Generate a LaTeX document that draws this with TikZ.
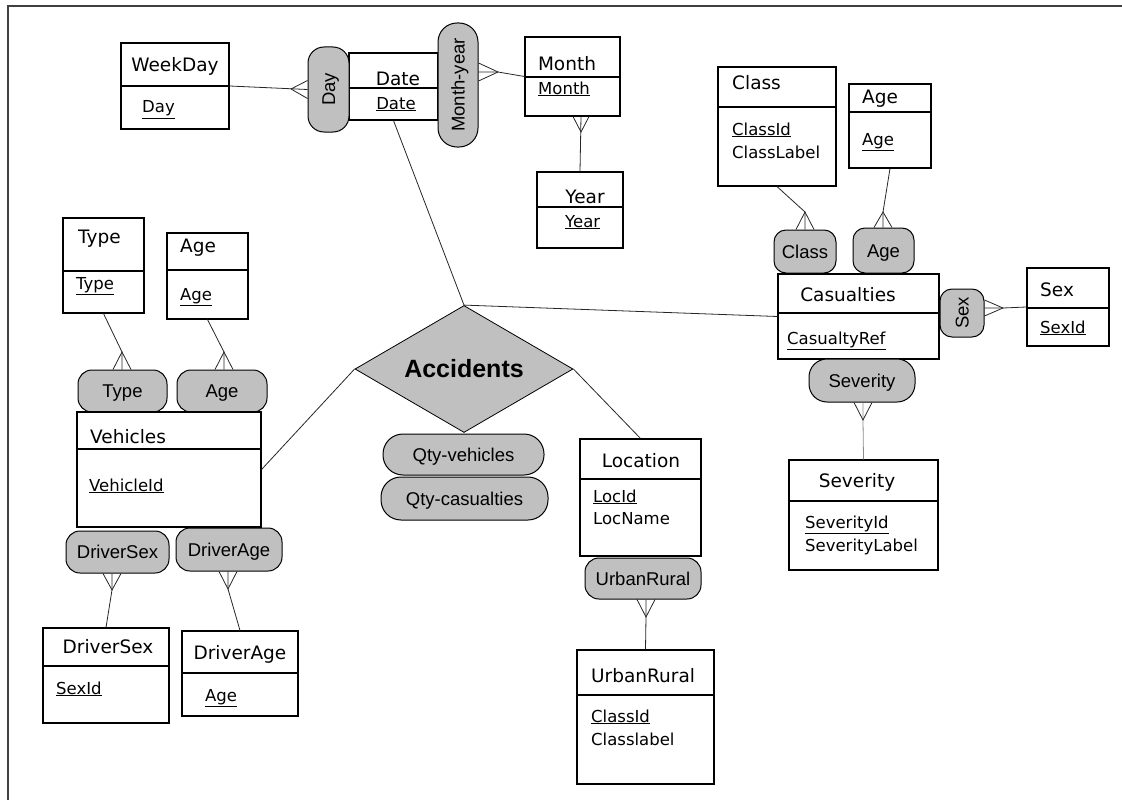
\documentclass[tikz,border=0pt]{standalone}
\usepackage{fontspec}
\setmainfont{DejaVu Sans}
\newfontfamily\pillfont{Liberation Sans}
\usetikzlibrary{calc,fit,shapes.geometric}
\definecolor{pillgray}{RGB}{192,192,192}
\tikzset{
	entity/.style={draw, line width=1.1pt, inner sep=0pt},
	divline/.style={line width=1.1pt},
	pill/.style={draw, line width=1pt, fill=pillgray, inner sep=0pt, rounded corners=14pt},
	pilltext/.style={inner sep=0pt, font=\pillfont\fontsize{18.5}{20}\selectfont, text height=13pt, text depth=0pt},
	title/.style={inner sep=0pt, font=\fontsize{18.5}{20}\selectfont, text height=13.5pt, text depth=0pt},
	attr/.style={inner sep=0pt, anchor=west, font=\fontsize{16.5}{19}\selectfont, text height=12pt, text depth=0pt},
	link/.style={line width=0.8pt, black!85},
}
% crow's foot: vertex, foot on the pill, half spread
\newcommand{\crow}[4][]{\draw[link,#1] ($(#3)+(#4)$) -- (#2) -- ($(#3)-(#4)$);}

\begin{document}
\begin{tikzpicture}[x=1pt, y=-1pt]
			%%%%% START %%%%%
			\useasboundingbox (0,0) rectangle (1122,800);
			\draw[line width=1.5pt, black!75] (8,800) -- (8,6) -- (1122,6);
			
			% date dimension
			\node[entity, fit={(121,43) (229,129)}] (wd) {};
			\draw[divline] (wd.west |- 0,86) -- (wd.east |- 0,86);
			\node[title] (wd-t) at (175,65) {WeekDay};
			\node[attr] (wd-a) at (142,107) {\underline{Day}};
			
			\node[entity, fit={(349,53) (438,120)}] (dt) {};
			\draw[divline] (dt.west |- 0,88) -- (dt.east |- 0,88);
			\node[title] (dt-t) at (398,79) {Date};
			\node[attr, anchor=center] (dt-a) at (396,103) {\underline{Date}};
			
			\node[pill, rounded corners=16pt, fit={(308,47) (349,132)}] (day) {};
			\node[pilltext, rotate=90] (day-t) at (day.center) {Day};
			\node[pill, rounded corners=19pt, fit={(438,23) (478,147)}] (my) {};
			\node[pilltext, rotate=90] (my-t) at (my.center) {Month-year};
			
			\node[entity, fit={(525,37) (620,116)}] (mo) {};
			\draw[divline] (mo.west |- 0,77) -- (mo.east |- 0,77);
			\node[title] (mo-t) at (567,64) {Month};
			\node[attr] (mo-a) at (538,88) {\underline{Month}};
			
			\node[entity, fit={(537,172) (623,248)}] (yr) {};
			\node[title] (yr-t) at (585,197) {Year};
			\draw[divline] (yr.west |- 0,207) -- (yr.east |- 0,207);
			\node[attr] (yr-a) at (565,221) {\underline{Year}};
			
			% casualties
			\node[entity, fit={(718,67) (836,186)}] (cl) {};
			\draw[divline] (cl.west |- 0,107) -- (cl.east |- 0,107);
			\node[title, anchor=west] (cl-t) at (732,83) {Class};
			\node[attr] (cl-a) at (732,129) {\underline{ClassId}};
			\node[attr] (cl-b) at (732,152) {ClassLabel};
			
			\node[entity, fit={(849,84) (931,168)}] (cag) {};
			\draw[divline] (cag.west |- 0,112) -- (cag.east |- 0,112);
			\node[title, anchor=west] (cag-t) at (862,97) {Age};
			\node[attr] (cag-a) at (862,139) {\underline{Age}};
			
			\node[pill, rounded corners=12pt, fit={(774,230) (836,273)}] (clp) {};
			\node[pilltext] (clp-t) at (clp.center) {Class};
			\node[pill, rounded corners=12pt, fit={(853,228) (914,273)}] (cap) {};
			\node[pilltext] (cap-t) at (cap.center) {Age};
			
			\node[entity, fit={(778,274) (939,359)}] (cas) {};
			\draw[divline] (cas.west |- 0,313) -- (cas.east |- 0,313);
			\node[title] (cas-t) at (848,295) {Casualties};
			\node[attr] (cas-a) at (787,338) {\underline{CasualtyRef}};
			
			\node[pill, rounded corners=12pt, fit={(940,289) (984,337)}] (sxp) {};
			\node[pilltext, rotate=90] (sxp-t) at (sxp.center) {Sex};
			\node[entity, fit={(1027,268) (1109,346)}] (sx) {};
			\draw[divline] (sx.west |- 0,308) -- (sx.east |- 0,308);
			\node[title, anchor=west] (sx-t) at (1040,290) {Sex};
			\node[attr] (sx-a) at (1040,327) {\underline{SexId}};
			
			\node[pill, rounded corners=18pt, fit={(809,359) (915,402)}] (svp) {};
			\node[pilltext] (svp-t) at (svp.center) {Severity};
			\node[entity, fit={(789,460) (938,570)}] (sv) {};
			\draw[divline] (sv.west |- 0,501) -- (sv.east |- 0,501);
			\node[title] (sv-t) at (857,481) {Severity};
			\node[attr] (sv-a) at (805,522) {\underline{SeverityId}};
			\node[attr] (sv-b) at (805,545) {SeverityLabel};
			
			% vehicles
			\node[entity, fit={(63,218) (144,313)}] (tb) {};
			\draw[divline] (tb.west |- 0,271) -- (tb.east |- 0,271);
			\node[title, anchor=west] (tb-t) at (78,237) {Type};
			\node[attr] (tb-a) at (76,283) {\underline{Type}};
			
			\node[entity, fit={(167,233) (248,319)}] (vab) {};
			\draw[divline] (vab.west |- 0,270) -- (vab.east |- 0,270);
			\node[title, anchor=west] (vab-t) at (180,246) {Age};
			\node[attr] (vab-a) at (180,294) {\underline{Age}};
			
			\node[pill, fit={(78,370) (167,412)}] (tp) {};
			\node[pilltext] (tp-t) at (tp.center) {Type};
			\node[pill, fit={(177,370) (267,412)}] (vap) {};
			\node[pilltext] (vap-t) at (vap.center) {Age};
			
			\node[entity, fit={(77,412) (261,527)}] (veh) {};
			\draw[divline] (veh.west |- 0,449) -- (veh.east |- 0,449);
			\node[title, anchor=west] (veh-t) at (90,437) {Vehicles};
			\node[attr] (veh-a) at (89,485) {\underline{VehicleId}};
			
			\node[pill, fit={(66,531) (169,573)}] (dsp) {};
			\node[pilltext] (dsp-t) at (dsp.center) {DriverSex};
			\node[pill, fit={(176,528) (282,571)}] (dap) {};
			\node[pilltext] (dap-t) at (dap.center) {DriverAge};
			
			\node[entity, fit={(43,628) (169,723)}] (dsb) {};
			\draw[divline] (dsb.west |- 0,666) -- (dsb.east |- 0,666);
			\node[title] (dsb-t) at (108,647) {DriverSex};
			\node[attr] (dsb-a) at (56,688) {\underline{SexId}};
			
			\node[entity, fit={(182,631) (298,716)}] (dab) {};
			\draw[divline] (dab.west |- 0,673) -- (dab.east |- 0,673);
			\node[title] (dab-t) at (240,653) {DriverAge};
			\node[attr] (dab-a) at (205,695) {\underline{Age}};
			
			% location
			\node[entity, fit={(580,439) (701,556)}] (loc) {};
			\draw[divline] (loc.west |- 0,479) -- (loc.east |- 0,479);
			\node[title] (loc-t) at (641,461) {Location};
			\node[attr] (loc-a) at (593,496) {\underline{LocId}};
			\node[attr] (loc-b) at (593,518) {LocName};
			
			\node[pill, fit={(585,558) (701,599)}] (urp) {};
			\node[pilltext] (urp-t) at (urp.center) {UrbanRural};
			\node[entity, fit={(577,650) (714,784)}] (urb) {};
			\draw[divline] (urb.west |- 0,695) -- (urb.east |- 0,695);
			\node[title, anchor=west] (urb-t) at (591,676) {UrbanRural};
			\node[attr] (urb-a) at (591,716) {\underline{ClassId}};
			\node[attr] (urb-b) at (591,739) {Classlabel};
			
			% fact
			\node[diamond, draw, line width=0.8pt, fill=pillgray, shape aspect=1.7, inner sep=0pt,
				minimum width=218pt, minimum height=127pt,
				font=\pillfont\bfseries\fontsize{25}{28}\selectfont] (acc) at (464,369) {Accidents};
			\node[pill, rounded corners=20pt, fit={(383,434) (544,475)}] (qv) {};
			\node[pilltext] (qv-t) at (qv.center) {Qty-vehicles};
			\node[pill, rounded corners=20pt, fit={(381,477) (548,520)}] (qc) {};
			\node[pilltext] (qc-t) at (qc.center) {Qty-casualties};
			
			% connectors
			\coordinate (dayv) at (291,89);
			\coordinate (myv) at (498,72);
			\coordinate (mov) at (581,132);
			\coordinate (clv) at (805,212);
			\coordinate (cagv) at (883,212);
			\coordinate (sxv) at (1003,308);
			\coordinate (svv) at (863,420);
			\coordinate (tpv) at (122,352);
			\coordinate (vapv) at (224,352);
			\coordinate (dsv) at (112,590);
			\coordinate (dav) at (228,589);
			\coordinate (urv) at (646,617);
			
			\draw[link] (wd.east) -- (day.west);
			\crow{dayv}{day.west}{0,9}
			\draw[link] (mo.west) -- (myv) -- (my.east |- myv);
			\crow{myv}{my.east |- myv}{0,9}
			\draw[link] (yr.north) -- (mov |- mo.south);
			\crow{mov}{mov |- mo.south}{8,0}
			\draw[link] (cl.south) -- (clv) -- (clp.north);
			\crow{clv}{clp.north}{9,0}
			\draw[link] (cag.south) -- (cagv) -- (cagv |- cap.north);
			\crow{cagv}{cagv |- cap.north}{9,0}
			\draw[link] (sx.west) -- (sxv) -- (sxp.east |- sxv);
			\crow{sxv}{sxp.east |- sxv}{0,8}
			\draw[link, black!45] (sv.north) -- (svv) -- (svv |- svp.south);
			\crow{svv}{svv |- svp.south}{9,0}
			\draw[link] (tb.south) -- (tpv) -- (tpv |- tp.north);
			\crow{tpv}{tpv |- tp.north}{9,0}
			\draw[link] (vab.south) -- (vapv) -- (vapv |- vap.north);
			\crow{vapv}{vapv |- vap.north}{9,0}
			\draw[link] (dsb.north) -- (dsv) -- (dsv |- dsp.south);
			\crow{dsv}{dsv |- dsp.south}{9,0}
			\draw[link] (dab.north) -- (dav) -- (dav |- dap.south);
			\crow{dav}{dav |- dap.south}{9,0}
			\draw[link] (urb.north) -- (urv) -- (urv |- urp.south);
			\crow{urv}{urv |- urp.south}{9,0}
			
			\draw[link] (dt.south) -- (acc.north);
			\draw[link] (acc.north) -- (cas.west);
			\draw[link] (acc.west) -- (veh.east);
			\draw[link] (acc.east) -- (loc.north);
			%%%%% END %%%%%
\end{tikzpicture}
\end{document}
